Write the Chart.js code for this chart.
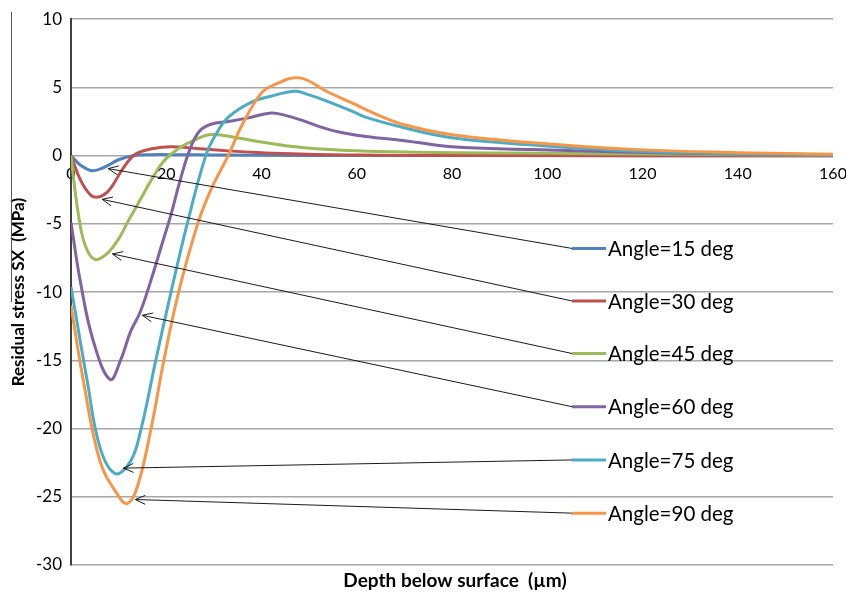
<!DOCTYPE html>
<html>
<head>
<meta charset="utf-8">
<script src="https://cdn.jsdelivr.net/npm/chart.js@4"></script>
<style>
  html, body { margin: 0; padding: 0; background: #fff; }
</style>
</head>
<body>
<canvas id="chart" width="846" height="596"></canvas>
<script>
  // ── data ──────────────────────────────────────────────
  const seriesNames = ['Angle=15 deg', 'Angle=30 deg', 'Angle=45 deg', 'Angle=60 deg', 'Angle=75 deg', 'Angle=90 deg'];

  const depth15 = [0, 2, 4.4, 7, 10, 13, 17, 22, 30, 50, 80, 120, 160];
  const stress15 = [0, -0.7, -1.1, -0.85, -0.3, 0, 0.07, 0.07, 0.05, 0.02, 0.01, 0, 0];

  const depth30 = [0, 2, 4, 5.4, 7, 8.5, 11, 13.5, 17, 21, 27, 33, 40, 48, 60, 80, 160];
  const stress30 = [0, -1.8, -2.85, -3.05, -2.85, -2.3, -0.9, 0.1, 0.5, 0.65, 0.5, 0.35, 0.22, 0.12, 0.04, 0.01, 0];

  const depth45 = [0, 1.5, 3, 5, 7.5, 10, 12, 14.6, 17, 19.5, 22.5, 26, 29.5, 35, 40, 48, 56, 65, 80, 100, 120, 140, 160];
  const stress45 = [0, -4.2, -6.6, -7.6, -7.2, -6.1, -4.8, -3.2, -1.7, -0.4, 0.5, 1.15, 1.55, 1.3, 1.0, 0.62, 0.42, 0.31, 0.22, 0.17, 0.12, 0.07, 0.04];

  const depth60 = [0, 2, 4.7, 8.2, 10.4, 12.5, 14.6, 17, 19, 21, 23, 25, 27, 29.4, 33, 37, 42, 45, 48.4, 52, 56, 62, 70, 80, 97, 118, 140, 160];
  const stress60 = [-4.9, -9.3, -13.6, -16.4, -15.0, -12.9, -11.4, -8.9, -6.6, -4.3, -1.7, 0.5, 1.8, 2.3, 2.5, 2.75, 3.13, 2.95, 2.6, 2.15, 1.75, 1.4, 1.1, 0.65, 0.45, 0.25, 0.12, 0.06];

  const depth75 = [0, 3.4, 6.1, 9.3, 12.5, 14.6, 17.8, 21, 24.4, 28.3, 30.5, 33, 37.8, 42, 47, 50, 53.7, 59, 62, 70, 80, 97, 118, 140, 160];
  const stress75 = [-9.6, -16.5, -21.4, -23.3, -22.4, -20.2, -15.0, -10, -5, 0, 1.6, 2.8, 3.9, 4.35, 4.72, 4.45, 4.0, 3.26, 2.8, 2.04, 1.31, 0.78, 0.34, 0.15, 0.07];

  const depth90 = [0, 2.6, 6.1, 9.7, 11.8, 13.9, 16.7, 19.5, 22.6, 26.6, 29.5, 33, 36, 40, 42.7, 48, 53.7, 59, 65, 70, 80, 97, 118, 140, 160];
  const stress90 = [-11, -16.5, -22.4, -24.8, -25.5, -24.3, -20.2, -15, -10, -5, -2.4, 0, 2.3, 4.6, 5.2, 5.7, 4.7, 3.86, 2.9, 2.26, 1.53, 0.95, 0.46, 0.22, 0.1];

  const depths = [depth15, depth30, depth45, depth60, depth75, depth90];
  const stresses = [stress15, stress30, stress45, stress60, stress75, stress90];

  const xTicks = [0, 20, 40, 60, 80, 100, 120, 140, 160];
  const yTicks = [-30, -25, -20, -15, -10, -5, 0, 5, 10];

  // ── styling / annotations ─────────────────────────────
  const lineColors = ['#4F81BD', '#C0504D', '#9BBB59', '#8064A2', '#4BACC6', '#F79646'];
  // where each call-out arrow points (data units) and where its legend row sits
  const arrowTips = [[7.8, -0.95], [6.55, -3.2], [8.7, -7.2], [15.0, -11.7], [11.0, -22.9], [13.5, -25.2]];
  const legendX = 105.2;
  const legendRows = [-6.8, -10.65, -14.5, -18.4, -22.3, -26.2];

  const datasets = seriesNames.map((name, i) => ({
    label: name,
    data: depths[i].map((d, k) => ({ x: d, y: stresses[i][k] })),
    borderColor: lineColors[i],
    backgroundColor: lineColors[i],
    borderWidth: 3,
    pointRadius: 0,
    tension: 0.4,
    order: seriesNames.length - 1 - i,
  }));

  const annotatePlugin = {
    id: 'annotate',
    afterDraw(chart) {
      const { ctx, chartArea, scales } = chart;
      const xs = scales.x, ys = scales.y;
      ctx.save();

      // arrows + legend rows
      legendRows.forEach((row, i) => {
        const lx = xs.getPixelForValue(legendX);
        const ly = ys.getPixelForValue(row);
        const tx = xs.getPixelForValue(arrowTips[i][0]);
        const ty = ys.getPixelForValue(arrowTips[i][1]);
        ctx.strokeStyle = '#1a1a1a';
        ctx.lineWidth = 1;
        ctx.beginPath();
        ctx.moveTo(lx, ly);
        ctx.lineTo(tx, ty);
        ctx.stroke();
        const ang = Math.atan2(ly - ty, lx - tx);
        const head = 11, spread = 0.42;
        ctx.beginPath();
        ctx.moveTo(tx + head * Math.cos(ang - spread), ty + head * Math.sin(ang - spread));
        ctx.lineTo(tx, ty);
        ctx.lineTo(tx + head * Math.cos(ang + spread), ty + head * Math.sin(ang + spread));
        ctx.stroke();

        ctx.strokeStyle = lineColors[i];
        ctx.lineWidth = 3;
        ctx.beginPath();
        ctx.moveTo(lx, ly);
        ctx.lineTo(lx + 34, ly);
        ctx.stroke();

        ctx.fillStyle = '#000';
        ctx.font = '20.5px Lato, "Open Sans", sans-serif';
        ctx.textAlign = 'left';
        ctx.textBaseline = 'middle';
        ctx.fillText(seriesNames[i], lx + 36, ly + 1);
      });

      // axis titles
      ctx.fillStyle = '#000';
      ctx.font = 'bold 19px Lato, "Open Sans", sans-serif';
      ctx.textAlign = 'center';
      ctx.textBaseline = 'middle';
      ctx.fillText('Depth below surface  (\u00b5m)', (chartArea.left + chartArea.right) / 2 + 3, 581);

      ctx.font = 'bold 17px Lato, "Open Sans", sans-serif';
      ctx.translate(19, (chartArea.top + chartArea.bottom) / 2);
      ctx.rotate(-Math.PI / 2);
      ctx.fillText('Residual stress SX  (MPa)', 0, 0);
      ctx.restore();

      // leftover frame edge at the far left of the picture
      ctx.save();
      ctx.strokeStyle = '#555';
      ctx.lineWidth = 1;
      ctx.beginPath();
      ctx.moveTo(11.5, 12);
      ctx.lineTo(11.5, 302);
      ctx.stroke();
      ctx.restore();
    },
  };

  new Chart(document.getElementById('chart'), {
    type: 'line',
    data: { datasets },
    options: {
      responsive: false,
      animation: false,
      layout: { padding: { top: 16, right: 13, bottom: 31, left: 0 } },
      plugins: {
        legend: { display: false },
        tooltip: { enabled: false },
      },
      scales: {
        x: {
          type: 'linear',
          min: xTicks[0],
          max: xTicks[xTicks.length - 1],
          position: { y: 0 },
          afterBuildTicks: (s) => { s.ticks = xTicks.map(v => ({ value: v })); },
          afterFit: (s) => { s.paddingLeft = 0; s.paddingRight = 0; },
          ticks: { color: '#000', font: { family: 'Lato', size: 16 }, padding: 9, maxRotation: 0 },
          grid: { display: false, drawTicks: false },
          border: { display: false },
        },
        y: {
          type: 'linear',
          min: yTicks[0],
          max: yTicks[yTicks.length - 1],
          afterBuildTicks: (s) => { s.ticks = yTicks.map(v => ({ value: v })); },
          afterFit: (s) => { s.width = 71; },
          ticks: { color: '#000', font: { family: 'Lato', size: 17 }, padding: 9 },
          grid: { color: '#a6a6a6', lineWidth: 1.5, drawTicks: false },
          border: { color: '#404040', width: 2 },
        },
      },
    },
    plugins: [annotatePlugin],
  });
</script>
</body>
</html>
